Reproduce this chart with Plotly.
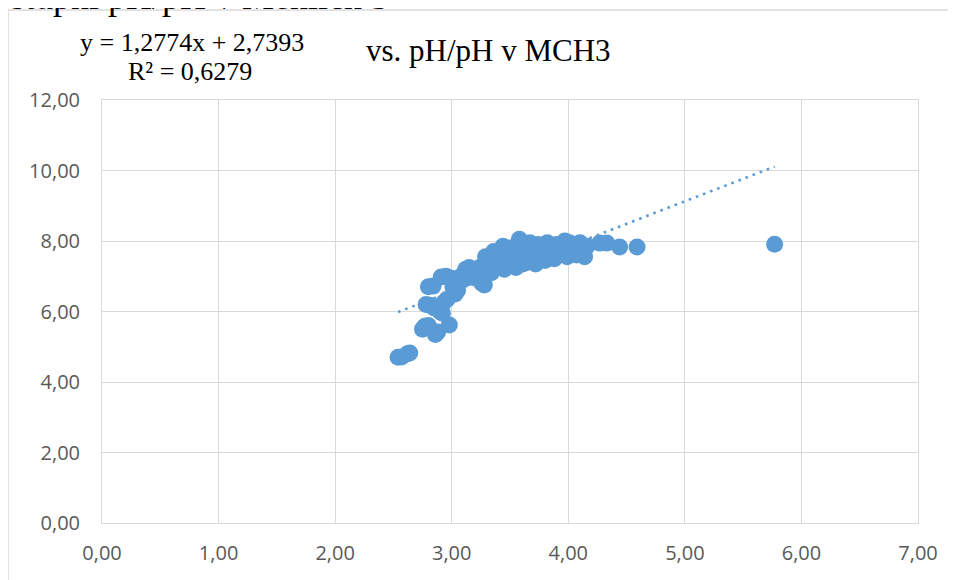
import plotly.graph_objects as go

# ---- data ----
x_vals = [2.54, 2.57, 2.62, 2.64,
          2.75, 2.77, 2.80, 2.86, 2.88, 2.98,
          2.78, 2.81, 2.85, 2.90, 2.92, 2.93, 2.96,
          2.80, 2.84,
          2.91, 2.95, 2.99, 3.01, 3.03, 3.05, 3.06, 3.08,
          3.12, 3.15, 3.13, 3.18, 3.20, 3.22,
          3.26, 3.28, 3.29, 3.30, 3.32, 3.34, 3.36, 3.38,
          3.40, 3.42, 3.44, 3.45, 3.46, 3.48, 3.50, 3.52,
          3.54, 3.55, 3.57, 3.58, 3.60, 3.61, 3.63, 3.65,
          3.67, 3.68, 3.70, 3.72, 3.74, 3.75, 3.78, 3.80,
          3.82, 3.84, 3.86, 3.88, 3.90, 3.92, 3.95, 3.97,
          3.99, 4.01, 4.03, 4.05, 4.07, 4.10, 4.12, 4.14,
          4.16, 4.27, 4.33, 4.44, 4.59, 5.77,
          3.10, 3.24, 3.36, 3.50, 3.64]
y_vals = [4.70, 4.71, 4.80, 4.82,
          5.50, 5.58, 5.60, 5.35, 5.42, 5.62,
          6.20, 6.18, 6.10, 6.00, 5.95, 6.25, 6.35,
          6.70, 6.72,
          6.98, 7.00, 6.95, 6.70, 6.50, 6.60, 6.85, 7.00,
          7.20, 7.25, 7.05, 7.10, 6.95, 7.00,
          6.80, 6.75, 7.55, 7.20, 7.35, 7.10, 7.50, 7.25,
          7.65, 7.40, 7.85, 7.20, 7.60, 7.30, 7.80, 7.45,
          7.70, 7.25, 7.55, 8.05, 7.85, 7.35, 7.65, 7.40,
          7.95, 7.50, 7.75, 7.35, 7.90, 7.55, 7.70, 7.45,
          7.95, 7.60, 7.80, 7.50, 7.90, 7.65, 7.75, 8.00,
          7.55, 7.95, 7.70, 7.85, 7.60, 7.95, 7.75, 7.55,
          7.85, 7.94, 7.94, 7.83, 7.83, 7.91,
          6.90, 7.25, 7.70, 7.62, 7.80]

slope = 1.2774
intercept = 2.7393
r_squared = 0.6279

x_ticks = [0, 1, 2, 3, 4, 5, 6, 7]
y_ticks = [0, 2, 4, 6, 8, 10, 12]

top_text = "Vstupní pH/pH v Mehlich 3"
title_text = "vs. pH/pH v MCH3"
eq_text = "y = 1,2774x + 2,7393"
r2_text = "R² = 0,6279"

BLUE = "#5B9BD5"
GRID = "#D9D9D9"

trend_x = [min(x_vals), max(x_vals)]
trend_y = [slope * v + intercept for v in trend_x]

fig = go.Figure()
fig.add_trace(go.Scatter(
    x=trend_x, y=trend_y, mode="lines",
    line=dict(color=BLUE, width=2.6, dash="2.6px,5px"),
    hoverinfo="skip", showlegend=False))
fig.add_trace(go.Scatter(
    x=x_vals, y=y_vals, mode="markers",
    marker=dict(color=BLUE, size=17, line=dict(width=0)),
    showlegend=False))

OFF = 8  # page body margin
W, H = 956 - OFF, 580 - OFF
L, R, T, B = 102 - OFF, 38, 100 - OFF, 57
pw, ph = W - L - R, H - T - B


def px(xpage):
    return (xpage - OFF - L) / pw


def py(ypage):
    return (H - B - (ypage - OFF)) / ph


axis_font = dict(family="Open Sans", size=20, color="#595959")

fig.update_layout(
    width=W, height=H,
    margin=dict(l=L, r=R, t=T, b=B, pad=0),
    paper_bgcolor="white", plot_bgcolor="white",
    separators=", ",
    xaxis=dict(range=[0, 7], tickvals=x_ticks, tickformat=".2f",
               showgrid=True, gridcolor=GRID, gridwidth=1,
               zeroline=False, showline=True, linecolor=GRID, linewidth=1,
               mirror=True, ticks="", tickfont=axis_font,
               ticklabelstandoff=12, fixedrange=True),
    yaxis=dict(range=[0, 12], tickvals=y_ticks, tickformat=".2f",
               showgrid=True, gridcolor=GRID, gridwidth=1,
               zeroline=False, showline=True, linecolor=GRID, linewidth=1,
               mirror=True, ticks="", tickfont=axis_font,
               ticklabelstandoff=17, fixedrange=True),
    shapes=[
        dict(type="line", xref="paper", yref="paper",
             x0=px(8), x1=px(960), y0=py(10), y1=py(10),
             line=dict(color=GRID, width=1.5)),
        dict(type="line", xref="paper", yref="paper",
             x0=px(8), x1=px(8), y0=py(10), y1=py(585),
             line=dict(color=GRID, width=1.5)),
    ],
    annotations=[
        dict(text=top_text, xref="paper", yref="paper",
             x=px(-17), y=py(-3), xanchor="left", yanchor="middle",
             showarrow=False,
             font=dict(family="Liberation Serif", size=36, color="black")),
        dict(text=title_text, xref="paper", yref="paper",
             x=px(488), y=py(50), xanchor="center", yanchor="middle",
             showarrow=False,
             font=dict(family="Liberation Serif", size=31, color="black")),
        dict(text=eq_text, xref="paper", yref="paper",
             x=px(192), y=py(43), xanchor="center", yanchor="middle",
             showarrow=False,
             font=dict(family="Liberation Serif", size=26, color="black")),
        dict(text=r2_text, xref="paper", yref="paper",
             x=px(190), y=py(71), xanchor="center", yanchor="middle",
             showarrow=False,
             font=dict(family="Liberation Serif", size=26, color="black")),
    ],
)

fig.write_html("out.html")
